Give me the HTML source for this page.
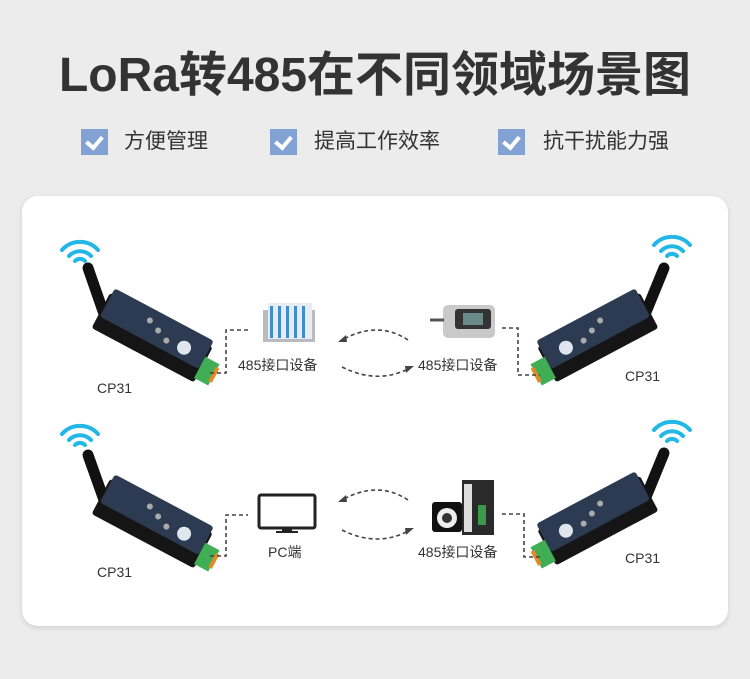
<!DOCTYPE html>
<html><head><meta charset="utf-8"><style>
body{margin:0;width:750px;height:679px;background:#ececec;overflow:hidden;font-family:"Liberation Sans","Noto Sans CJK SC",sans-serif;position:relative}
.t{position:absolute;left:0;width:750px;top:45px;text-align:center;font-size:48px;font-weight:bold;color:#333;line-height:62px;letter-spacing:0px}
.cb{position:absolute;top:129px;width:27px;height:26px;background:#82a2d4}
.cb:after{content:"";position:absolute;left:8px;top:4px;width:7px;height:12px;border:solid #fff;border-width:0 4px 4px 0;transform:rotate(40deg)}
.ct{position:absolute;top:127px;font-size:21px;color:#333;line-height:30px}
.card{position:absolute;left:22px;top:196px;width:706px;height:430px;background:#fff;border-radius:16px;box-shadow:0 2px 6px rgba(0,0,0,.12)}
.l{position:absolute;font-size:14px;color:#333;line-height:18px}
svg{position:absolute;left:0;top:0}
</style></head><body>
<div class="t">LoRa转485在不同领域场景图</div>
<div class="cb" style="left:81px"></div><div class="ct" style="left:124px">方便管理</div>
<div class="cb" style="left:270px"></div><div class="ct" style="left:314px">提高工作效率</div>
<div class="cb" style="left:498px"></div><div class="ct" style="left:543px">抗干扰能力强</div>
<div class="card"></div>
<svg width="750" height="679" viewBox="0 0 750 679">
<defs>
<g id="dev">
<rect x="-58" y="-16" width="116" height="40" rx="3" fill="#151515"/>
<rect x="-56" y="-22" width="112" height="32" rx="3" fill="#2c3a52"/>
<circle cx="-10" cy="-10" r="3" fill="#aaa"/><circle cx="2" cy="-5" r="3" fill="#aaa"/><circle cx="14" cy="0" r="3" fill="#aaa"/>
<circle cx="33" cy="-2" r="7" fill="#dfe6ee"/>
<rect x="56" y="-4" width="16" height="24" fill="#3fae54"/>
<rect x="70" y="0" width="4" height="16" fill="#e28a2a"/>
</g>
<g id="wifi" fill="none" stroke="#22b7e6" stroke-width="4" stroke-linecap="round">
<path d="M-18 0 A24 24 0 0 1 18 0"/><path d="M-11 6 A15 15 0 0 1 11 6"/><path d="M-5 11 A7 7 0 0 1 5 11"/>
</g>
</defs>
<use href="#wifi" x="80" y="250"/>
<path d="M104 314 L88 268" stroke="#111" stroke-width="11" stroke-linecap="round"/>
<use href="#dev" transform="translate(154,334) rotate(28)"/>
<use href="#wifi" x="672" y="245"/>
<path d="M646 312 L664 268" stroke="#111" stroke-width="11" stroke-linecap="round"/>
<use href="#dev" transform="translate(596,334) scale(-1,1) rotate(28)"/>
<use href="#wifi" x="80" y="434"/>
<path d="M104 500 L88 455" stroke="#111" stroke-width="11" stroke-linecap="round"/>
<use href="#dev" transform="translate(154,520) rotate(28)"/>
<use href="#wifi" x="672" y="430"/>
<path d="M646 497 L664 453" stroke="#111" stroke-width="11" stroke-linecap="round"/>
<use href="#dev" transform="translate(596,517) scale(-1,1) rotate(28)"/>
<g fill="none" stroke="#444" stroke-width="1.6" stroke-dasharray="4 3">
<path d="M210 373 H226 V330 H248"/>
<path d="M502 328 H518 V375 H540"/>
<path d="M210 556 H226 V515 H248"/>
<path d="M502 514 H524 V557 H541"/>
<path d="M408 340 Q378 320 342 340"/>
<path d="M342 367 Q378 385 410 368"/>
<path d="M408 500 Q378 480 342 500"/>
<path d="M342 530 Q378 548 410 530"/>
</g>
<g fill="#444"><path d="M338 342 l8 -7 l1 7z"/><path d="M414 366 l-8 7 l-1 -7z"/><path d="M338 502 l8 -7 l1 7z"/><path d="M414 528 l-8 7 l-1 -7z"/></g>
<rect x="263" y="310" width="52" height="32" fill="#b8bcc2"/>
<rect x="268" y="303" width="44" height="36" fill="#e8ecf0"/>
<g fill="#3d8fd0"><rect x="270" y="306" width="3" height="32"/><rect x="278" y="306" width="3" height="32"/><rect x="286" y="306" width="3" height="32"/><rect x="294" y="306" width="3" height="32"/><rect x="302" y="306" width="3" height="32"/></g>
<rect x="443" y="305" width="52" height="33" rx="5" fill="#c9c9c9"/>
<rect x="455" y="309" width="36" height="20" rx="3" fill="#333"/>
<rect x="463" y="313" width="20" height="12" fill="#6a8a8a"/>
<path d="M430 320 H444" stroke="#555" stroke-width="3"/>
<rect x="259" y="495" width="56" height="33" rx="2" fill="#fff" stroke="#222" stroke-width="3"/>
<rect x="282" y="528" width="10" height="4" fill="#222"/><rect x="276" y="531" width="22" height="2" fill="#222"/>
<rect x="462" y="480" width="32" height="55" fill="#2a2a2a"/>
<rect x="464" y="484" width="8" height="48" fill="#ddd"/>
<rect x="478" y="505" width="8" height="20" fill="#3a9a4a"/>
<rect x="432" y="502" width="30" height="30" rx="3" fill="#111"/>
<circle cx="447" cy="518" r="10" fill="#eee"/><circle cx="447" cy="518" r="5" fill="#333"/>
</svg>
<div class="l" style="left:97px;top:379px">CP31</div>
<div class="l" style="left:238px;top:356px">485接口设备</div>
<div class="l" style="left:418px;top:356px">485接口设备</div>
<div class="l" style="left:625px;top:367px">CP31</div>
<div class="l" style="left:97px;top:563px">CP31</div>
<div class="l" style="left:268px;top:543px">PC端</div>
<div class="l" style="left:418px;top:543px">485接口设备</div>
<div class="l" style="left:625px;top:549px">CP31</div>
</body></html>
